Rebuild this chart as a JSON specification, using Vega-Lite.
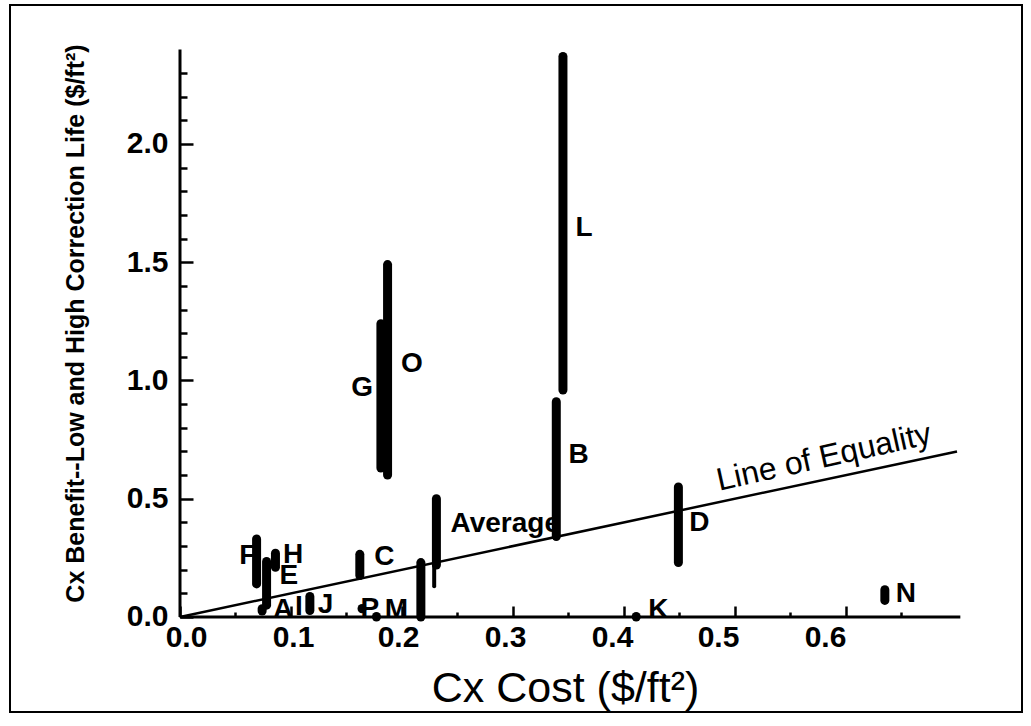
{
  "$schema": "https://vega.github.io/schema/vega-lite/v6.json",
  "width": 1012,
  "height": 707,
  "autosize": {"type": "none"},
  "padding": {"left": 10, "top": 5, "right": 9, "bottom": 14},
  "background": "white",
  "config": {
    "view": {"stroke": "black", "strokeWidth": 2},
    "font": "Liberation Sans"
  },
  "datasets": {
    "bars": [
      {"name": "F", "x": 0.069, "y": 0.14, "y2": 0.33},
      {"name": "E", "x": 0.078, "y": 0.05, "y2": 0.235},
      {"name": "A", "x": 0.074, "y": 0.025, "y2": 0.035},
      {"name": "H", "x": 0.086, "y": 0.21, "y2": 0.27},
      {"name": "J", "x": 0.117, "y": 0.027, "y2": 0.087},
      {"name": "P", "x": 0.164, "y": 0.035, "y2": 0.036},
      {"name": "M", "x": 0.177, "y": 0.0, "y2": 0.002},
      {"name": "C", "x": 0.162, "y": 0.175, "y2": 0.265},
      {"name": "I", "x": 0.217, "y": 0.0, "y2": 0.23},
      {"name": "G", "x": 0.181, "y": 0.63, "y2": 1.24},
      {"name": "O", "x": 0.187, "y": 0.6, "y2": 1.49},
      {"name": "Average", "x": 0.231, "y": 0.22, "y2": 0.5},
      {"name": "B", "x": 0.339, "y": 0.34, "y2": 0.91},
      {"name": "L", "x": 0.345, "y": 0.96, "y2": 2.37},
      {"name": "D", "x": 0.449, "y": 0.23, "y2": 0.55},
      {"name": "K", "x": 0.411, "y": 0.0, "y2": 0.002},
      {"name": "N", "x": 0.635, "y": 0.07, "y2": 0.115}
    ],
    "tail": [
      {"name": "Average", "x": 0.229, "y": 0.13, "y2": 0.22}
    ],
    "labels": [
      {"text": "F", "x": 0.061, "y": 0.258},
      {"text": "H", "x": 0.102, "y": 0.262},
      {"text": "E", "x": 0.098, "y": 0.173},
      {"text": "A", "x": 0.093, "y": 0.03},
      {"text": "I", "x": 0.107, "y": 0.042},
      {"text": "J", "x": 0.131, "y": 0.051},
      {"text": "P", "x": 0.171, "y": 0.034},
      {"text": "M", "x": 0.195, "y": 0.03},
      {"text": "C", "x": 0.184, "y": 0.254},
      {"text": "Average", "x": 0.293, "y": 0.393},
      {"text": "G", "x": 0.164, "y": 0.968},
      {"text": "O", "x": 0.209, "y": 1.07},
      {"text": "L", "x": 0.364, "y": 1.645},
      {"text": "B", "x": 0.359, "y": 0.685},
      {"text": "D", "x": 0.468, "y": 0.397},
      {"text": "K", "x": 0.431, "y": 0.03},
      {"text": "N", "x": 0.654, "y": 0.097}
    ],
    "equality": [
      {"x": 0, "y": 0, "x2": 0.7, "y2": 0.7}
    ],
    "equalityLabel": [
      {"text": "Line of Equality", "x": 0.582, "y": 0.634}
    ],
    "axisLines": [
      {"x": 0, "y": 0, "x2": 0, "y2": 2.4},
      {"x": 0, "y": 0, "x2": 0.703, "y2": 0}
    ]
  },
  "encoding": {
    "x": {
      "field": "x",
      "type": "quantitative",
      "scale": {"domain": [-0.15315, 0.75856], "nice": false, "zero": false},
      "axis": {
        "title": "Cx Cost ($/ft²)",
        "orient": "bottom",
        "offset": -95,
        "domain": false,
        "grid": false,
        "values": [0, 0.05, 0.1, 0.15, 0.2, 0.25, 0.3, 0.35, 0.4, 0.45, 0.5, 0.55, 0.6, 0.65],
        "labelExpr": "abs(datum.value*10 - round(datum.value*10)) < 0.01 ? format(datum.value, '.1f') : ''",
        "tickColor": "black",
        "tickWidth": 2.5,
        "tickSize": {"condition": {"test": "abs(datum.value*10 - round(datum.value*10)) < 0.01", "value": -11}, "value": -5},
        "labelPadding": 16,
        "labelOffset": {"condition": [
          {"test": "datum.value > 0.55", "value": -21},
          {"test": "datum.value > 0.45", "value": -17},
          {"test": "datum.value > 0.35", "value": -12},
          {"test": "datum.value > 0.25", "value": -8},
          {"test": "datum.value > 0.15", "value": -4},
          {"test": "datum.value > 0.05", "value": 2}
        ], "value": 6},
        "labelFont": "Liberation Sans",
        "labelFontSize": 30,
        "labelFontWeight": "bold",
        "labelColor": "black",
        "labelFlush": false,
        "labelOverlap": false,
        "titleFont": "Liberation Sans",
        "titleFontSize": 43,
        "titleFontWeight": "normal",
        "titleColor": "black",
        "titleX": 555,
        "titleY": 84,
        "titleBaseline": "alphabetic"
      }
    },
    "y": {
      "field": "y",
      "type": "quantitative",
      "scale": {"domain": [-0.4017, 2.5877], "nice": false, "zero": false},
      "axis": {
        "title": "Cx Benefit--Low and High Correction Life ($/ft²)",
        "orient": "left",
        "offset": -170,
        "domain": false,
        "grid": false,
        "values": [0, 0.1, 0.2, 0.3, 0.4, 0.5, 0.6, 0.7, 0.8, 0.9, 1.0, 1.1, 1.2, 1.3, 1.4, 1.5, 1.6, 1.7, 1.8, 1.9, 2.0, 2.1, 2.2, 2.3],
        "labelExpr": "abs(datum.value*2 - round(datum.value*2)) < 0.01 ? format(datum.value, '.1f') : ''",
        "tickColor": "black",
        "tickWidth": 2.5,
        "tickSize": {"condition": {"test": "abs(datum.value*2 - round(datum.value*2)) < 0.01", "value": -13}, "value": -7},
        "labelPadding": 25,
        "labelFont": "Liberation Sans",
        "labelFontSize": 30,
        "labelFontWeight": "bold",
        "labelColor": "black",
        "labelFlush": false,
        "labelOverlap": false,
        "titleFont": "Liberation Sans",
        "titleFontSize": 25,
        "titleFontWeight": "bold",
        "titleColor": "black",
        "titleX": -92,
        "titleY": 318
      }
    }
  },
  "layer": [
    {
      "data": {"name": "axisLines"},
      "mark": {"type": "rule", "color": "black", "strokeWidth": 3},
      "encoding": {"x2": {"field": "x2"}, "y2": {"field": "y2"}}
    },
    {
      "data": {"name": "equality"},
      "mark": {"type": "rule", "color": "black", "strokeWidth": 2.5},
      "encoding": {"x2": {"field": "x2"}, "y2": {"field": "y2"}}
    },
    {
      "data": {"name": "bars"},
      "mark": {"type": "rule", "color": "black", "strokeWidth": 9, "strokeCap": "round"},
      "encoding": {"y2": {"field": "y2"}}
    },
    {
      "data": {"name": "tail"},
      "mark": {"type": "rule", "color": "black", "strokeWidth": 4, "strokeCap": "round"},
      "encoding": {"y2": {"field": "y2"}}
    },
    {
      "data": {"name": "labels"},
      "mark": {"type": "text", "font": "Liberation Sans", "fontSize": 28, "fontWeight": "bold", "color": "black", "align": "center", "baseline": "middle"},
      "encoding": {"text": {"field": "text"}}
    },
    {
      "data": {"name": "equalityLabel"},
      "mark": {"type": "text", "font": "Liberation Sans", "fontSize": 32, "color": "black", "align": "center", "baseline": "alphabetic", "angle": -12.5},
      "encoding": {"text": {"field": "text"}}
    }
  ]
}
